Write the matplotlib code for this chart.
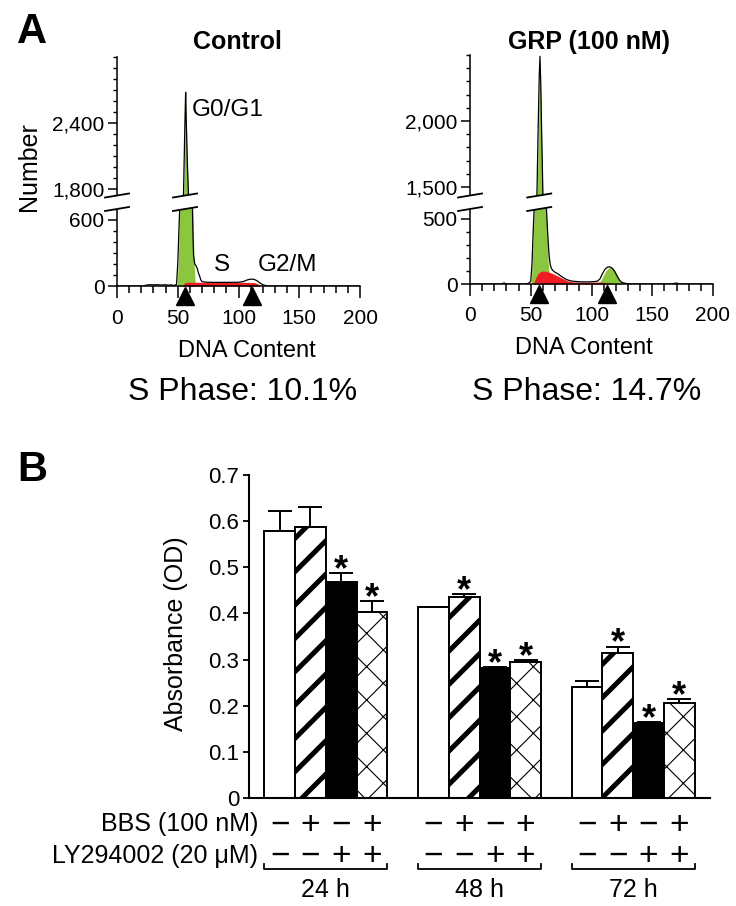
import matplotlib
matplotlib.use('Agg')
import matplotlib.pyplot as plt
import matplotlib.transforms as mtransforms
from matplotlib.patches import Polygon
from matplotlib.lines import Line2D
from matplotlib.ticker import MultipleLocator, FuncFormatter

plt.rcParams['font.family'] = ['Liberation Sans', 'DejaVu Sans']
plt.rcParams['axes.linewidth'] = 1.1

# ---------------- data: panel A (cell-cycle histograms) ----------------
ctrl_raw_x = [0, 22, 24, 27, 30, 33, 36, 39, 42, 45, 47, 49, 50, 51, 52, 53, 54, 55, 56, 56.5,
              57, 58, 59, 60, 61, 62, 62.5, 63, 64, 65, 66, 67, 68, 69, 70, 72, 75, 80, 90, 100,
              104, 106, 108, 110, 112, 114, 116, 118, 120, 122, 124, 200]
ctrl_raw_y = [0, 0, 8, 12, 10, 12, 9, 11, 8, 10, 4, 15, 200, 520, 820, 1050, 1400, 1900, 2450, 2680,
              2420, 2000, 1700, 1300, 1000, 760, 480, 280, 200, 185, 160, 120, 90, 55, 40, 36, 34, 33, 33, 34,
              40, 50, 58, 62, 62, 55, 42, 25, 12, 5, 0, 0]
ctrl_g1_x = [49.5, 50.5, 51.5, 53, 54.5, 55.5, 56.5, 57.5, 58.5, 60, 61.5, 62.5, 63.5, 64.5]
ctrl_g1_y = [0, 250, 650, 1000, 1500, 2050, 2660, 2200, 1850, 1350, 900, 600, 200, 0]
ctrl_g2_x = [106, 109, 112, 115, 118]
ctrl_g2_y = [0, 25, 32, 25, 0]
ctrl_s_x = [54, 55.5, 58, 65, 80, 95, 108, 113, 116, 118]
ctrl_s_y = [0, 28, 34, 34, 33, 33, 33, 30, 18, 0]
ctrl_markers = [56, 111]

grp_raw_x = [0, 26, 28, 30, 46, 48, 50, 51, 52, 53, 54, 55, 56, 57, 57.6, 58.2, 59, 60, 61, 62,
             63, 64, 65, 66, 67, 68, 70, 72, 75, 78, 80, 84, 90, 96, 102, 105, 107, 109, 111, 113,
             115, 117, 119, 121, 123, 125, 128, 131, 165, 168, 170, 172, 200]
grp_raw_y = [0, 0, 8, 0, 0, 5, 20, 150, 400, 620, 900, 1400, 1900, 2350, 2490, 2300, 1900, 1450, 1000, 720,
             560, 380, 230, 150, 120, 105, 90, 80, 60, 42, 32, 22, 17, 16, 18, 22, 40, 80, 112, 128,
             132, 122, 98, 62, 30, 12, 5, 0, 0, 4, 8, 0, 0]
grp_g1_x = [50.5, 52, 53.5, 55, 56.5, 57.6, 58.7, 60, 61.5, 63, 64.5, 66]
grp_g1_y = [0, 350, 700, 1350, 2000, 2480, 2000, 1400, 900, 450, 150, 0]
grp_g2_x = [105, 108, 110, 112, 114, 116, 118, 120, 122, 124, 126]
grp_g2_y = [0, 30, 70, 105, 122, 128, 118, 90, 55, 20, 0]
grp_s_x = [52, 54, 56, 58, 60, 63, 66, 70, 75, 80, 85, 90, 100, 106, 110, 113, 116]
grp_s_y = [0, 45, 80, 95, 100, 97, 88, 72, 48, 25, 16, 14, 14, 15, 13, 8, 0]
grp_markers = [57, 113]

panel_titles = ['Control', 'GRP (100 nM)']
s_phase = ['S Phase: 10.1%', 'S Phase: 14.7%']
ctrl_top_ticks = [1800, 2400]
ctrl_bot_ticks = [0, 600]
grp_top_ticks = [1500, 2000]
grp_bot_ticks = [0, 500]

# ---------------- data: panel B (absorbance) ----------------
time_labels = ['24 h', '48 h', '72 h']
bbs_signs = ['\u2212', '+', '\u2212', '+']
ly_signs = ['\u2212', '\u2212', '+', '+']
mean_24 = [0.579, 0.587, 0.468, 0.403]
err_24 = [0.043, 0.044, 0.020, 0.024]
mean_48 = [0.413, 0.436, 0.281, 0.295]
err_48 = [0.002, 0.006, 0.002, 0.004]
mean_72 = [0.241, 0.314, 0.162, 0.205]
err_72 = [0.012, 0.014, 0.002, 0.009]
sig_24 = [False, False, True, True]
sig_48 = [False, True, True, True]
sig_72 = [False, True, True, True]
means = [mean_24, mean_48, mean_72]
errs = [err_24, err_48, err_72]
sigs = [sig_24, sig_48, sig_72]

bar_faces = ['white', 'white', 'black', 'white']
bar_hatches = [None, '/', None, 'x']
bar_hatch_lw = [1.0, 3.6, 1.0, 0.8]

# ---------------- figure ----------------
W, H = 736, 906
fig = plt.figure(figsize=(W / 100, H / 100), dpi=100)


def rect(x0, y0, x1, y1):
    return [x0 / W, 1 - y1 / H, (x1 - x0) / W, (y1 - y0) / H]


def fp(x, y):
    return (x / W, 1 - y / H)


def ftext(x, y, s, **kw):
    return fig.text(x / W, 1 - y / H, s, **kw)


GREEN = '#8CC63F'
RED = '#EE1D23'


def comma(v, pos):
    return f'{int(round(v)):,}'


def break_mark(cx, cy=202.0):
    half = 12
    up = [(cx - half, cy - 4.5), (cx + half, cy - 8.5)]
    lo = [(cx - half, cy + 9.0), (cx + half, cy + 5.0)]
    poly = Polygon([fp(*up[0]), fp(*up[1]), fp(*lo[1]), fp(*lo[0])], closed=True,
                   transform=fig.transFigure, facecolor='white', edgecolor='none', zorder=10)
    fig.add_artist(poly)
    for seg in (up, lo):
        fig.add_artist(Line2D([fp(*seg[0])[0], fp(*seg[1])[0]], [fp(*seg[0])[1], fp(*seg[1])[1]],
                              transform=fig.transFigure, color='black', lw=1.3, zorder=11))


def hist_panel(pl, pr, ptop, pbh, pbl, pzero, ylim_top, ylim_bot, top_major, bot_major,
               raw_x, raw_y, g1x, g1y, g2x, g2y, sx, sy, markers, label_pad):
    axT = fig.add_axes(rect(pl, ptop, pr, pbh))
    axL = fig.add_axes(rect(pl, pbl, pr, pzero))
    for ax in (axT, axL):
        ax.fill_between(g1x, g1y, color=GREEN, lw=0, zorder=1)
        ax.fill_between(g2x, g2y, color=GREEN, lw=0, zorder=1)
        ax.fill_between(sx, sy, color=RED, lw=0, zorder=1.5)
        ax.plot(raw_x, raw_y, color='black', lw=0.9, zorder=2)
        ax.spines[['top', 'right']].set_visible(False)
        ax.yaxis.set_minor_locator(MultipleLocator(100))
        ax.yaxis.set_major_formatter(FuncFormatter(comma))
        ax.tick_params(axis='y', which='major', length=6.5, width=1.1, labelsize=15, pad=2.5)
        ax.tick_params(axis='y', which='minor', length=3, width=1.0)
        ax.patch.set_alpha(0)
    axT.set_yticks(top_major)
    axL.set_yticks(bot_major)
    axT.set_ylim(*ylim_top)
    axL.set_ylim(*ylim_bot)
    for ax in (axT, axL):
        ax.set_xlim(0, 200)
    axT.spines['bottom'].set_visible(False)
    axT.tick_params(axis='x', which='both', bottom=False, labelbottom=False)
    axL.set_xticks([0, 50, 100, 150, 200])
    axL.xaxis.set_minor_locator(MultipleLocator(10))
    axL.tick_params(axis='x', which='major', length=8.6, width=1.1, labelsize=15, pad=label_pad)
    axL.tick_params(axis='x', which='minor', length=5, width=1.1)
    h_px = pzero - pbl
    axL.plot(markers, [-10.0 / h_px] * len(markers), marker='^', ls='none', ms=12.5,
             color='black', transform=axL.get_xaxis_transform(), clip_on=False, zorder=5)
    # break marks on axis and on the G0/G1 peak
    break_mark(pl)
    break_mark(pl + (markers[0] - 0) / 200 * (pr - pl))
    return axT, axL


axT1, axL1 = hist_panel(117, 360, 57, 200, 204, 286, (1700, 3000), (0, 745),
                        ctrl_top_ticks, ctrl_bot_ticks,
                        ctrl_raw_x, ctrl_raw_y, ctrl_g1_x, ctrl_g1_y, ctrl_g2_x, ctrl_g2_y,
                        ctrl_s_x, ctrl_s_y, ctrl_markers, 8.0)
axT2, axL2 = hist_panel(470, 713, 55, 200, 204, 284, (1402, 2500), (0, 614),
                        grp_top_ticks, grp_bot_ticks,
                        grp_raw_x, grp_raw_y, grp_g1_x, grp_g1_y, grp_g2_x, grp_g2_y,
                        grp_s_x, grp_s_y, grp_markers, 7.5)

axT1.text(61.7, 2466, 'G0/G1', fontsize=17.5, ha='left', va='baseline')
axL1.text(86.4, 139, 'S', fontsize=17.5, ha='center', va='baseline')
axL1.text(140.3, 139, 'G2/M', fontsize=17.5, ha='center', va='baseline')

ftext(17, 43, 'A', fontsize=30, fontweight='bold', ha='left', va='baseline')
ftext(237, 49, panel_titles[0], fontsize=18, fontweight='bold', ha='center', va='baseline')
ftext(589, 49, panel_titles[1], fontsize=18, fontweight='bold', ha='center', va='baseline')
ftext(29, 167, 'Number', fontsize=18, rotation=90, ha='center', va='center')
ftext(247, 356.5, 'DNA Content', fontsize=17, ha='center', va='baseline')
ftext(584, 354.5, 'DNA Content', fontsize=17, ha='center', va='baseline')
ftext(243, 400.5, s_phase[0], fontsize=23, ha='center', va='baseline')
ftext(587, 400.5, s_phase[1], fontsize=23, ha='center', va='baseline')

# ---------------- panel B ----------------
ftext(17, 481, 'B', fontsize=30, fontweight='bold', ha='left', va='baseline')
axB = fig.add_axes(rect(249, 475, 710, 798))
group_step = 5
for g in range(len(time_labels)):
    for i in range(4):
        x = g * group_step + i
        v = means[g][i]
        e = errs[g][i]
        with plt.rc_context({'hatch.linewidth': bar_hatch_lw[i]}):
            bc = axB.bar(x, v, width=1.0, facecolor=bar_faces[i], edgecolor='black',
                         linewidth=1.4, hatch=bar_hatches[i], zorder=2)
        for p in bc.patches:
            if hasattr(p, 'set_hatch_linewidth'):
                try:
                    p.set_hatch_linewidth(bar_hatch_lw[i])
                except Exception:
                    pass
            orig = p.draw

            def _draw(renderer, _orig=orig, _lw=bar_hatch_lw[i]):
                with plt.rc_context({'hatch.linewidth': _lw}):
                    _orig(renderer)
            p.draw = _draw
        axB.errorbar([x], [v], yerr=[[0], [e]], fmt='none', ecolor='black', elinewidth=1.4,
                     capsize=8.3, capthick=1.4, zorder=3)
        if sigs[g][i]:
            axB.annotate('*', xy=(x, v + e), xytext=(0, -5), textcoords='offset points',
                         ha='center', va='baseline', fontsize=26, fontweight='bold')

axB.set_xlim(-1, 14)
axB.set_ylim(0, 0.7)
axB.set_yticks([0, 0.1, 0.2, 0.3, 0.4, 0.5, 0.6, 0.7])
axB.yaxis.set_major_formatter(FuncFormatter(lambda v, p: '0' if abs(v) < 1e-9 else f'{v:.1f}'))
axB.spines[['top', 'right']].set_visible(False)
axB.spines['left'].set_linewidth(1.5)
axB.spines['bottom'].set_linewidth(1.5)
axB.tick_params(axis='y', length=4, width=1.3, labelsize=16, pad=3)
axB.tick_params(axis='x', bottom=False, labelbottom=False)
ftext(176, 634, 'Absorbance (OD)', fontsize=18, rotation=90, ha='center', va='center')

blend = mtransforms.blended_transform_factory(axB.transData, fig.transFigure)
ftext(258, 831, 'BBS (100 nM)', fontsize=18, ha='right', va='baseline')
ftext(258, 863, 'LY294002 (20 \u03bcM)', fontsize=18, ha='right', va='baseline')
for g, lab in enumerate(time_labels):
    for i in range(4):
        x = g * group_step + i
        axB.text(x, 1 - 834 / H, bbs_signs[i], transform=blend, fontsize=24,
                 ha='center', va='baseline')
        axB.text(x, 1 - 865 / H, ly_signs[i], transform=blend, fontsize=24,
                 ha='center', va='baseline')
    xl = g * group_step - 0.5
    xr = g * group_step + 3.5
    axB.add_line(Line2D([xl, xl, xr, xr], [1 - 864 / H, 1 - 869 / H, 1 - 869 / H, 1 - 864 / H],
                        transform=blend, color='black', lw=1.3, clip_on=False))
    axB.text(g * group_step + 1.5, 1 - 897 / H, lab, transform=blend, fontsize=18,
             ha='center', va='baseline')

fig.savefig('out.png', dpi=100)
